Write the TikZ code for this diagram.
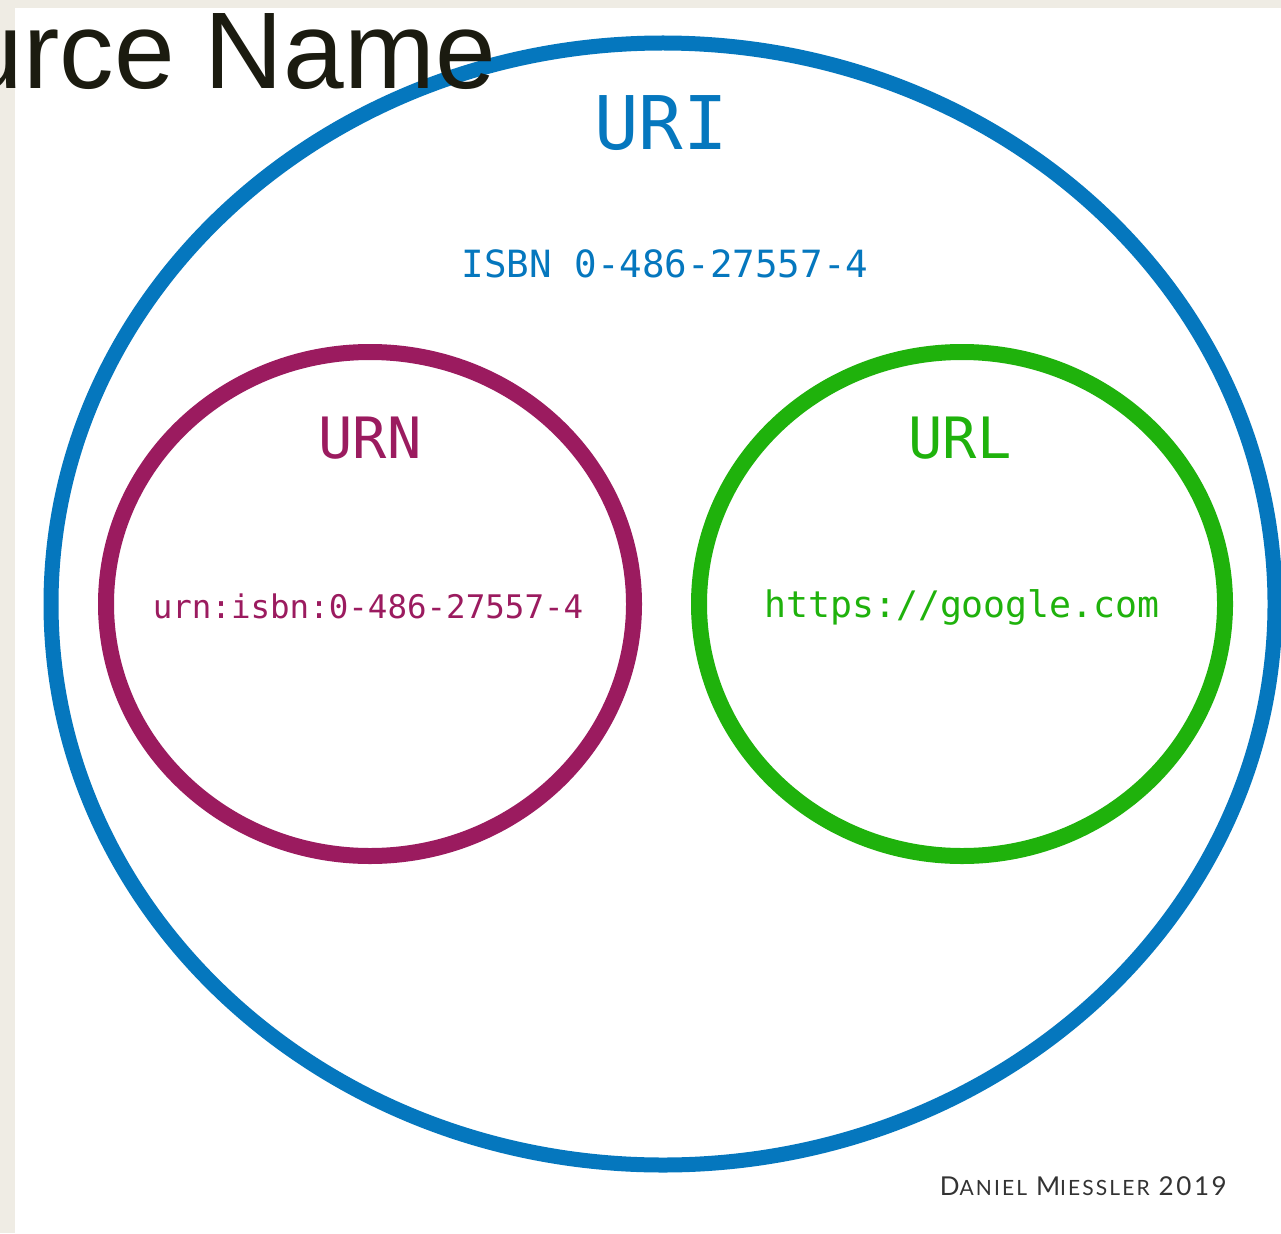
\documentclass[tikz,border=0pt]{standalone}
\usepackage{fontspec}
\usetikzlibrary{shapes.geometric}
\newfontfamily\monofam{DejaVu Sans Mono}
\newfontfamily\headfam{Liberation Sans}
\newfontfamily\signfam[LetterSpace=10]{Lato}
\definecolor{beige}{HTML}{EFECE4}
\definecolor{uriblue}{HTML}{0577BE}
\definecolor{urnpurple}{HTML}{9B1B5F}
\definecolor{urlgreen}{HTML}{1FB20C}
\definecolor{headblack}{HTML}{1B1B10}
\definecolor{signgray}{HTML}{333333}
\tikzset{
  ring/.style={ellipse, draw, fill=none, inner sep=0pt, outer sep=0pt},
  monotext/.style={font=\monofam, inner sep=0pt, anchor=base},
}
\newcommand{\fsz}[1]{\fontsize{#1}{#1}\selectfont}
\begin{document}
\begin{tikzpicture}[x=1pt,y=-1pt]
\useasboundingbox (0,0) rectangle (1281,1233);
\clip (0,0) rectangle (1281,1233);
\fill[beige] (0,0) rectangle (1281,1233);
\fill[white] (15,8) rectangle (1281,1233);
% rings
\node[ring, draw=uriblue, line width=15pt, minimum width=1224pt, minimum height=1122pt] (uri) at (663,604) {};
\node[ring, draw=urnpurple, line width=16pt, minimum width=528pt, minimum height=504pt] (urn) at (370,604) {};
\node[ring, draw=urlgreen, line width=16pt, minimum width=526pt, minimum height=504pt] (url) at (962,604) {};
% labels
\node[monotext, text=uriblue] (urilbl) at (661,150) {\fsz{74}URI};
\node[monotext, text=uriblue] (isbn) at (665,277) {\fsz{37.5}ISBN 0-486-27557-4};
\node[monotext, text=urnpurple] (urnlbl) at (370,458) {\fsz{57}URN};
\node[monotext, text=urnpurple] (urnex) at (368,618) {\fsz{32.5}urn:isbn:0-486-27557-4};
\node[monotext, text=urlgreen] (urllbl) at (960,458) {\fsz{57}URL};
\node[monotext, text=urlgreen] (urlex) at (962,617) {\fsz{36.5}https://google.com};
% heading fragment
\node[font=\headfam, text=headblack, inner sep=0pt, anchor=base east] (head) at (496,89) {\fsz{109}urce Name};
% signature
\node[font=\signfam, text=signgray, inner sep=0pt, anchor=base east] (sign) at (1227,1195)
  {{\fsz{26}D}{\fsz{21}ANIEL}\hspace{9pt}{\fsz{26}M}{\fsz{21}IESSLER}\hspace{9pt}{\fsz{26}2019}};
\end{tikzpicture}
\end{document}
